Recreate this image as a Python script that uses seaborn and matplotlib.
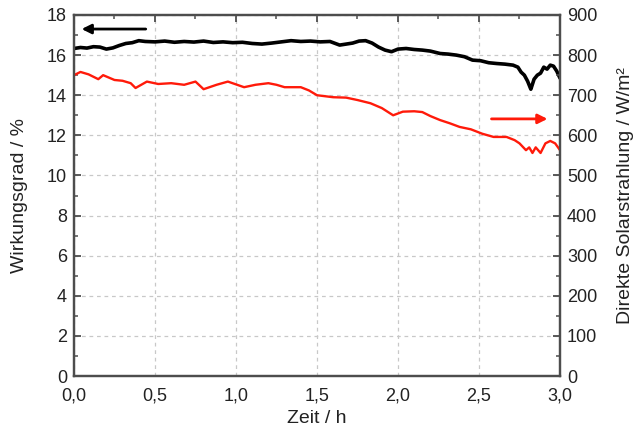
import matplotlib
matplotlib.use("Agg")
import matplotlib.pyplot as plt
import matplotlib.ticker as mticker
import numpy as np
import pandas as pd
import seaborn as sns

# Wirkungsgrad (left axis, black)
t_eff = [0.00, 0.04, 0.08, 0.12, 0.16, 0.20, 0.24, 0.28, 0.32, 0.36, 0.40, 0.44,
         0.50, 0.56, 0.62, 0.68, 0.74, 0.80, 0.86, 0.92, 0.98, 1.04, 1.10, 1.16,
         1.22, 1.28, 1.34, 1.40, 1.46, 1.52, 1.58, 1.64, 1.68, 1.72, 1.76, 1.80,
         1.84, 1.88, 1.92, 1.96, 2.00, 2.05, 2.10, 2.15, 2.20, 2.26, 2.31, 2.36,
         2.41, 2.46, 2.51, 2.56, 2.61, 2.66, 2.71, 2.74, 2.76, 2.78, 2.80, 2.81,
         2.82, 2.84, 2.86, 2.88, 2.90, 2.92, 2.94, 2.96, 2.98, 3.00]
eff = [16.33, 16.38, 16.35, 16.42, 16.40, 16.30, 16.36, 16.48, 16.58, 16.62, 16.72, 16.68,
       16.66, 16.70, 16.64, 16.68, 16.65, 16.70, 16.63, 16.66, 16.62, 16.64, 16.58, 16.55,
       16.60, 16.66, 16.72, 16.68, 16.70, 16.66, 16.68, 16.50, 16.55, 16.60, 16.70, 16.72,
       16.60, 16.40, 16.25, 16.17, 16.30, 16.33, 16.28, 16.25, 16.20, 16.08, 16.05, 16.00,
       15.92, 15.75, 15.72, 15.62, 15.58, 15.55, 15.50, 15.40, 15.15, 15.00, 14.70, 14.50,
       14.30, 14.80, 15.00, 15.10, 15.40, 15.30, 15.50, 15.45, 15.20, 14.85]

# Direkte Solarstrahlung (right axis, red)
t_sol = [0.00, 0.04, 0.09, 0.15, 0.18, 0.25, 0.30, 0.35, 0.38, 0.45, 0.52, 0.60,
         0.68, 0.75, 0.80, 0.88, 0.95, 1.05, 1.12, 1.20, 1.25, 1.30, 1.40, 1.45,
         1.50, 1.60, 1.68, 1.75, 1.83, 1.90, 1.97, 2.03, 2.10, 2.15, 2.20, 2.26,
         2.32, 2.38, 2.45, 2.52, 2.59, 2.67, 2.72, 2.75, 2.79, 2.81, 2.83, 2.85,
         2.88, 2.91, 2.94, 2.97, 3.00]
sol = [750, 758, 752, 740, 750, 738, 736, 730, 718, 734, 728, 730,
       726, 734, 715, 726, 734, 720, 726, 730, 726, 720, 720, 712,
       700, 695, 694, 688, 680, 668, 650, 659, 660, 658, 648, 638,
       630, 621, 615, 604, 596, 596, 588, 580, 563, 570, 556, 570,
       556, 580, 586, 580, 563]

df_eff = pd.DataFrame({"Zeit": t_eff, "Wirkungsgrad": eff})
df_sol = pd.DataFrame({"Zeit": t_sol, "Solar": sol})

sns.set_style("white")
plt.rcParams["font.family"] = ["Liberation Sans", "DejaVu Sans"]

grey = "#4d4d4d"
fig, ax = plt.subplots(figsize=(6.4, 4.36), dpi=100)
fig.subplots_adjust(left=0.1156, right=0.875, top=0.9656, bottom=0.1376)
ax2 = ax.twinx()

sns.lineplot(data=df_eff, x="Zeit", y="Wirkungsgrad", ax=ax, color="black", lw=2.6)
sns.lineplot(data=df_sol, x="Zeit", y="Solar", ax=ax2, color="#ff1a0a", lw=1.7)

ax.set_xlim(0, 3)
ax.set_ylim(0, 18)
ax2.set_ylim(0, 900)
ax.set_xticks(np.arange(0, 3.01, 0.5))
ax.set_yticks(np.arange(0, 19, 2))
ax2.set_yticks(np.arange(0, 901, 100))
ax.xaxis.set_minor_locator(mticker.MultipleLocator(0.25))
ax.yaxis.set_minor_locator(mticker.MultipleLocator(1))
ax2.yaxis.set_minor_locator(mticker.MultipleLocator(50))
ax.xaxis.set_major_formatter(mticker.FuncFormatter(lambda v, p: f"{v:.1f}".replace(".", ",")))

ax.grid(True, which="major", ls=(0, (3, 3)), color="#c8c8c8", lw=0.9)
ax.tick_params(which="both", direction="in", top=True, colors=grey, labelcolor="#222222",
               labelsize=13)
ax.tick_params(axis="x", which="major", pad=8)
ax.tick_params(axis="y", which="major", pad=5)
ax.tick_params(which="major", length=5, width=1.3)
ax.tick_params(which="minor", length=3, width=1.1)
ax2.tick_params(which="both", direction="in", colors=grey, labelcolor="#222222", labelsize=13)
ax2.tick_params(which="major", length=5, width=1.3, pad=5)
ax2.tick_params(which="minor", length=3, width=1.1)

for a in (ax, ax2):
    for s in a.spines.values():
        s.set_color(grey)
        s.set_linewidth(1.6)

ax.set_xlabel("Zeit / h", fontsize=14, color="#222222")
ax.set_ylabel("Wirkungsgrad / %", fontsize=14, color="#222222")
ax2.set_ylabel("Direkte Solarstrahlung / W/m²", fontsize=14, color="#222222")
ax.xaxis.set_label_coords(0.5, -0.094)
ax.yaxis.set_label_coords(-0.095, 0.5)
ax2.yaxis.set_label_coords(1.117, 0.5)

ax.annotate("", xy=(0.03, 17.3), xytext=(0.46, 17.3),
            arrowprops=dict(arrowstyle="-|>", color="black", lw=2, mutation_scale=14))
ax2.annotate("", xy=(2.94, 641), xytext=(2.56, 641),
             arrowprops=dict(arrowstyle="-|>", color="#ff1a0a", lw=2, mutation_scale=14))

fig.savefig("out.png", dpi=100)
